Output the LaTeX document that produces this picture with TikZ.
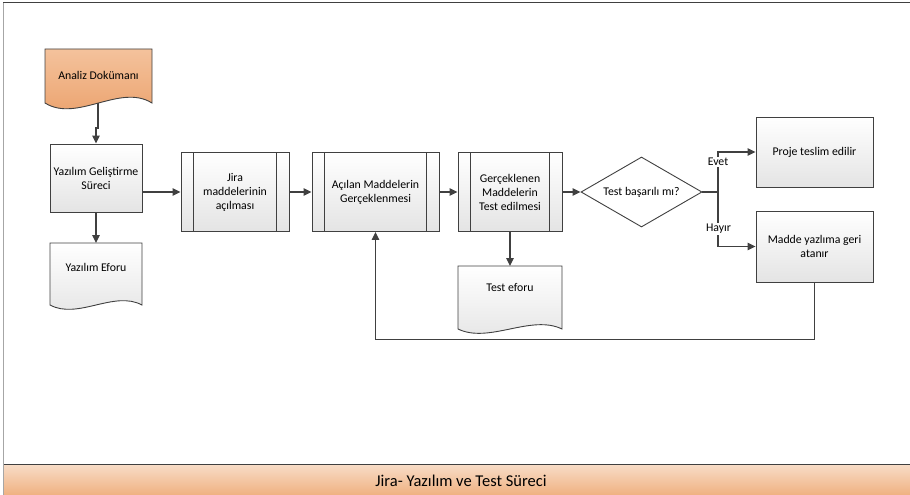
\documentclass[tikz,border=0pt]{standalone}
\usepackage{fontspec}
\setmainfont{Carlito}
\usetikzlibrary{shapes.geometric,arrows.meta}
\definecolor{lineC}{HTML}{404040}
\definecolor{boxBot}{HTML}{E4E4E4}
\definecolor{orTop}{HTML}{F4C29C}
\definecolor{orBot}{HTML}{EBA06A}
\definecolor{bandTop}{HTML}{F8DDC8}
\definecolor{bandBot}{HTML}{EFAE7C}
\begin{document}
\begin{tikzpicture}[x=1pt, y=-1pt,
        every node/.style={font=\fontsize{11.8}{14}\selectfont},
        box/.style={draw=lineC, line width=0.9pt, top color=white, bottom color=boxBot, align=center},
        subproc/.style={box, path picture={
            \draw[lineC, line width=0.9pt] ([xshift=12.5pt]path picture bounding box.north west) -- ([xshift=12.5pt]path picture bounding box.south west);
            \draw[lineC, line width=0.9pt] ([xshift=-12.5pt]path picture bounding box.north east) -- ([xshift=-12.5pt]path picture bounding box.south east);}},
        decision/.style={diamond, draw=lineC, line width=0.9pt, fill=white, aspect=2, inner sep=0pt, minimum width=121, minimum height=70},
        docline/.style={draw=lineC, line width=0.9pt},
        doctext/.style={anchor=north, align=center},
        conn/.style={draw=lineC, line width=1.2pt},
        flow/.style={conn, -{Triangle[length=8pt,width=7.5pt]}},
        lbl/.style={fill=white, inner sep=1pt}]
    \useasboundingbox (0,0) rectangle (910,495);

    % frame and title band
    \draw[gray!70, line width=0.8pt] (3,3) -- (3,497);
    \draw[lineC, line width=1pt] (3,3) -- (912,3);
    \shade[top color=bandTop, bottom color=bandBot] (3,464) rectangle (912,497);
    \draw[lineC, line width=1pt] (3,464) -- (912,464);
    \draw[gray!70, line width=0.8pt] (3,464) -- (3,497);
    \node[font=\fontsize{16.5}{20}\selectfont] (title) at (461,481) {Jira- Yazılım ve Test Süreci};

    % documents
    \path[docline, top color=orTop, bottom color=orBot] (45,49) -- (152,49) -- (152,103)
        .. controls (120,83) and (77,123) .. (45,103) -- cycle;
    \node[doctext, minimum width=107, minimum height=52] (analiz) at (98.5,49) {Analiz Dokümanı};

    \path[docline, top color=white, bottom color=boxBot] (50,243) -- (142,243) -- (142,305)
        .. controls (114,290) and (78,320) .. (50,305) -- cycle;
    \node[doctext, minimum width=92, minimum height=48] (eforu) at (96,243) {Yazılım Eforu};

    \path[docline, top color=white, bottom color=boxBot] (458,266) -- (562,266) -- (562,329)
        .. controls (531,314) and (489,344) .. (458,329) -- cycle;
    \node[doctext, minimum width=104, minimum height=42] (testef) at (510,266) {Test eforu};

    % steps
    \node[box, minimum width=92, minimum height=68] (yazilim) at (96,178) {Yazılım Geliştirme\\Süreci};
    \node[subproc, minimum width=108, minimum height=79] (jira) at (235,192) {Jira\\maddelerinin\\açılması};
    \node[subproc, minimum width=127, minimum height=79] (acilan) at (375.5,192) {Açılan Maddelerin\\Gerçeklenmesi};
    \node[subproc, minimum width=104, minimum height=79] (gercek) at (510,192) {Gerçeklenen\\Maddelerin\\Test edilmesi};
    \node[decision] (test) at (641.5,192) {Test başarılı mı?};
    \node[box, minimum width=117, minimum height=70] (proje) at (814.5,152) {Proje teslim edilir};
    \node[box, minimum width=117, minimum height=71] (madde) at (814.5,246.5) {Madde yazlıma geri\\atanır};

    % connectors
    \coordinate (analizbot) at (98,103);
    \coordinate (split) at (718,192);
    \draw[flow] (analizbot) -- ++(0,25) -| (yazilim.north);
    \draw[flow] (yazilim.south) -- (eforu.north);
    \draw[flow] (yazilim.east |- jira.west) -- (jira.west);
    \draw[flow] (jira.east) -- (acilan.west);
    \draw[flow] (acilan.east) -- (gercek.west);
    \draw[flow] (gercek.east) -- (test.west);
    \draw[flow] (gercek.south) -- (testef.north);
    \draw[conn] (test.east) -- (split);
    \draw[flow] (split) |- (proje.west);
    \draw[flow] (split) |- (madde.west);
    \draw[flow] (madde.south) -- ++(0,57) -| (acilan.south);

    \node[lbl] (evet) at (718,162) {Evet};
    \node[lbl] (hayir) at (718.5,229) {Hayır};
\end{tikzpicture}
\end{document}
